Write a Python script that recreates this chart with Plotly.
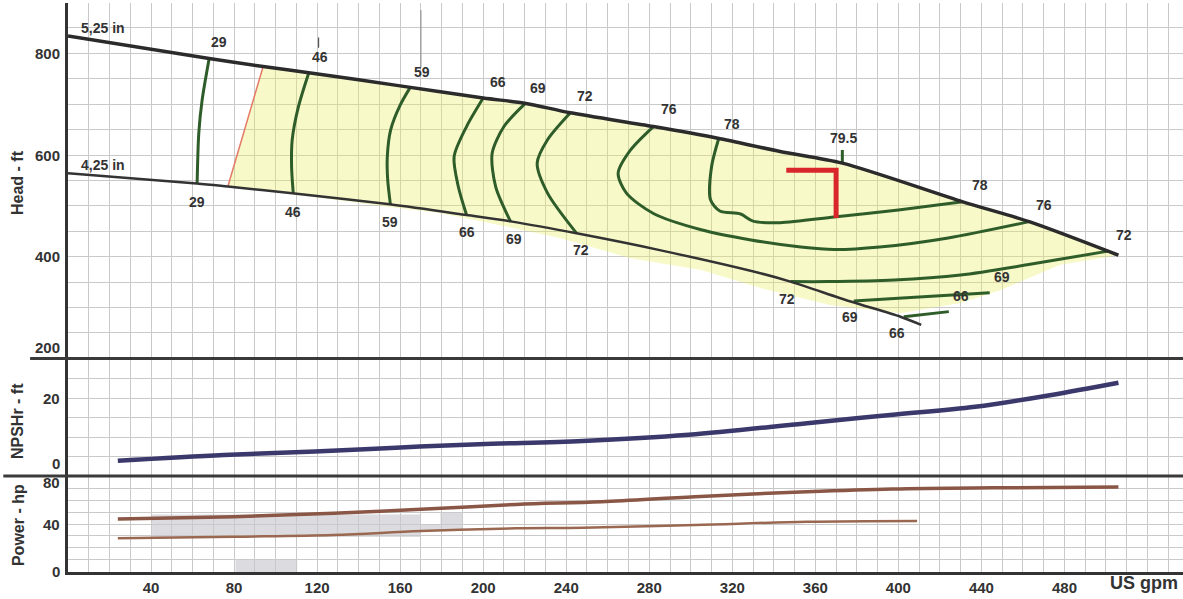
import plotly.graph_objects as go

# ---------------- head / flow curves (US gpm, ft) ----------------
q_525 = [0, 68, 94, 116, 160, 200, 220, 242, 282, 313, 343, 373, 431, 463, 506]
h_525 = [834, 790, 774, 762, 736, 712, 702, 683, 656, 633, 607, 584, 508, 469, 403]
q_425 = [0, 62, 77, 108, 155, 192, 214, 245, 285, 334, 348, 377, 401, 411]
h_425 = [564, 544, 538, 525, 503, 482, 469, 446, 413, 367, 351, 312, 282, 266]

# allowable operating region edge (min. flow)
q_minflow = [77, 94]
h_minflow = [538, 774]

# lower edge of the shaded operating region
q_shade_lo = [478, 449, 430, 401, 367, 334, 305, 271, 237, 208, 179, 155, 112, 77]
h_shade_lo = [384, 334, 309, 289, 305, 338, 374, 397, 437, 462, 486, 498, 521, 538]

# iso-efficiency contours (%)
iso_29_q = [68, 64.6, 63, 62.2]
iso_29_h = [790, 708, 643, 544]
iso_46_q = [116, 111, 108, 107.7, 108.5]
iso_46_h = [762, 695, 630, 577, 525]
iso_59_q = [165, 160, 155.4, 153.8, 154, 155.3]
iso_59_h = [734, 698, 649, 596, 551, 503]
iso_66_q = [200, 192, 186, 188, 192]
iso_66_h = [712, 656, 597, 538, 482]
iso_69_q = [220.4, 210, 204.3, 206, 213.2]
iso_69_h = [702, 656, 603, 538, 469]
iso_72_q = [242, 231, 226, 231, 245]
iso_72_h = [683, 630, 584, 525, 446]
iso_76_q = [282, 271, 265, 269, 282, 305, 329, 353, 369, 391, 424, 463]
iso_76_h = [656, 610, 564, 525, 485, 453, 433, 419, 414, 419, 437, 469]
iso_78_q = [313.5, 310, 309.5, 314, 324, 330, 343, 369, 400, 431]
iso_78_h = [633, 577, 512, 490, 484, 470, 467, 478, 492, 508]
iso_795_q = [373, 373]
iso_795_h = [584, 610]
iso_72b_q = [348, 366, 398, 430, 462, 501]
iso_72b_h = [351, 351, 354, 364, 384, 411]
iso_69b_q = [378.5, 398, 444]
iso_69b_h = [313, 318, 329]
iso_66b_q = [402.6, 424.3]
iso_66b_h = [282, 292]

# duty point
duty_q = 370
duty_h = 570

# reference ticks above the max-diameter curve
tick59_q = [170, 170]
tick59_h = [885, 773]
tick46_q = [120.7, 120.7]
tick46_h = [831, 811]

# efficiency labels: (text, gpm, ft)
eff_labels = [
    ("29", 72.5, 823), ("46", 121.6, 793), ("59", 170.6, 764), ("66", 207, 744),
    ("69", 226.3, 731), ("72", 249, 716), ("76", 289.4, 690), ("78", 320, 662),
    ("79.5", 373.7, 633), ("78", 439.5, 541), ("76", 470, 502), ("72", 508.5, 443),
    ("69", 450, 361), ("66", 430, 323),
    ("29", 62.2, 508), ("46", 108.5, 488), ("59", 155.3, 469), ("66", 192.3, 449),
    ("69", 214.7, 434), ("72", 246.9, 413), ("72", 346.4, 316), ("69", 376.9, 281),
    ("66", 399.4, 249),
]
dia_labels = [("5,25 in", 17, 850), ("4,25 in", 17, 580)]

# ---------------- NPSHr (ft) ----------------
q_npsh = [24, 75, 119, 158, 198, 248, 299, 356, 396, 437, 473, 506]
npsh = [3.9, 5.4, 6.3, 7.3, 8.2, 9.0, 10.6, 13.6, 15.7, 17.8, 20.8, 24.0]

# ---------------- power (hp) ----------------
q_pow_525 = [24, 80, 128, 170, 216, 257, 302, 356, 397, 446, 506]
pow_525 = [44.2, 46.1, 48.9, 52.2, 56.3, 58.6, 62.8, 66.9, 69.2, 70.2, 70.8]
q_pow_425 = [24, 80, 128, 170, 216, 248, 302, 356, 409]
pow_425 = [28.1, 29.4, 30.8, 34.2, 36.4, 36.9, 39.2, 41.9, 42.6]

# x tick labels
x_ticks = list(range(0, 540, 10))
x_labels = [str(v) if (v % 40 == 0 and 40 <= v <= 480) else "" for v in x_ticks]

GRID = "#c9c9c9"
AXIS = "#333333"
GREEN = "#2f5d2a"
FONT = "Liberation Sans, Arial, sans-serif"

fig = go.Figure()

# shaded operating region
fig.add_trace(go.Scatter(
    x=q_minflow[:1] + q_525[2:] + q_shade_lo,
    y=h_minflow[:1] + h_525[2:] + h_shade_lo,
    fill="toself", fillcolor="rgba(232,238,105,0.36)",
    line=dict(width=0), mode="lines", hoverinfo="skip", showlegend=False,
    xaxis="x", yaxis="y"))

def head_line(q, h, color, width, shape="spline"):
    fig.add_trace(go.Scatter(x=q, y=h, mode="lines",
                             line=dict(color=color, width=width, shape=shape, smoothing=0.8),
                             showlegend=False, hoverinfo="skip", xaxis="x", yaxis="y"))

for q, h in [(iso_29_q, iso_29_h), (iso_46_q, iso_46_h), (iso_59_q, iso_59_h),
             (iso_66_q, iso_66_h), (iso_69_q, iso_69_h), (iso_72_q, iso_72_h),
             (iso_76_q, iso_76_h), (iso_78_q, iso_78_h), (iso_795_q, iso_795_h),
             (iso_72b_q, iso_72b_h), (iso_69b_q, iso_69b_h), (iso_66b_q, iso_66b_h)]:
    head_line(q, h, GREEN, 3)

head_line(q_minflow, h_minflow, "#e47a66", 1.5, "linear")
head_line(q_525, h_525, "#2b2b2b", 3.5)
head_line(q_425, h_425, "#333333", 2.5)
head_line(tick59_q, tick59_h, "#888888", 1, "linear")
head_line(tick46_q, tick46_h, "#555555", 1.2, "linear")

# duty point bracket
head_line([duty_q - 24, duty_q, duty_q], [duty_h, duty_h, 476], "#d8262a", 5, "linear")

# NPSHr
fig.add_trace(go.Scatter(x=q_npsh, y=npsh, mode="lines",
                         line=dict(color="#3b396c", width=4.5, shape="spline"),
                         showlegend=False, hoverinfo="skip", xaxis="x2", yaxis="y2"))

# power
fig.add_trace(go.Scatter(x=q_pow_525, y=pow_525, mode="lines",
                         line=dict(color="#8a5645", width=3.5, shape="spline"),
                         showlegend=False, hoverinfo="skip", xaxis="x3", yaxis="y3"))
fig.add_trace(go.Scatter(x=q_pow_425, y=pow_425, mode="lines",
                         line=dict(color="#9a6850", width=2.5, shape="spline"),
                         showlegend=False, hoverinfo="skip", xaxis="x3", yaxis="y3"))

X_RANGE = [0, 537.1]
head_dom = [0.3754, 1.0]
npsh_dom = [0.1687, 0.3754]
pow_dom = [0.0, 0.1687]

xbase = dict(range=X_RANGE, tickmode="array", tickvals=x_ticks, showgrid=True,
             gridcolor=GRID, gridwidth=1, zeroline=False, ticks="")
ybase = dict(showgrid=True, gridcolor=GRID, gridwidth=1, zeroline=False,
             showticklabels=False, showline=True, linecolor=AXIS, linewidth=2.5, ticks="")

fig.update_layout(
    width=1183, height=599,
    margin=dict(l=68, r=0, t=3, b=27),
    paper_bgcolor="white", plot_bgcolor="white",
    showlegend=False,
    font=dict(family=FONT, color=AXIS),
    xaxis=dict(**xbase, anchor="y", domain=[0, 1], showticklabels=False),
    xaxis2=dict(**xbase, anchor="y2", domain=[0, 1], matches="x", showticklabels=False),
    xaxis3=dict(**xbase, anchor="y3", domain=[0, 1], matches="x",
                ticktext=x_labels, showticklabels=True,
                tickfont=dict(family=FONT, size=15, color="#333333", weight="bold"),
                showline=True, linecolor=AXIS, linewidth=2.5),
    yaxis=dict(**ybase, domain=head_dom, range=[200, 899], tick0=200, dtick=50),
    yaxis2=dict(**ybase, domain=npsh_dom, range=[0, 30.27], tick0=0, dtick=5),
    yaxis3=dict(**ybase, domain=pow_dom, range=[0, 80], tick0=0, dtick=10),
)

# panel dividers
for yv, x0 in [(npsh_dom[1], -0.034), (pow_dom[1], -0.058)]:
    fig.add_shape(type="line", xref="paper", yref="paper", x0=x0, x1=1, y0=yv, y1=yv,
                  line=dict(color="#3a3a3a", width=3))

# grey patches in the power panel
for x0, x1, y0, y1 in [(40.5, 169.6, 29.2, 48.0), (179.4, 190, 39.2, 49.2),
                       (169.6, 190, 34.2, 39.2), (80.7, 110.4, 0, 10)]:
    fig.add_shape(type="rect", xref="x3", yref="y3", x0=x0, x1=x1, y0=y0, y1=y1,
                  line=dict(width=0), fillcolor="#dcdce0", layer="below")

lab_font = dict(family=FONT, size=14, color="#333333", weight="bold")
tick_font = dict(family=FONT, size=15, color="#333333", weight="bold")

for txt, q, h in eff_labels + dia_labels:
    fig.add_annotation(x=q, y=h, xref="x", yref="y", text=txt, showarrow=False,
                       font=lab_font, xanchor="center", yanchor="middle")

# y tick labels
ytick_x = -0.0054
for txt, yv, ref in [("800", 800, "y"), ("600", 600, "y"), ("400", 400, "y"), ("200", 220.5, "y"),
                     ("20", 20, "y2"), ("0", 3.1, "y2"),
                     ("80", 74.2, "y3"), ("40", 40, "y3"), ("0", 0, "y3")]:
    fig.add_annotation(x=ytick_x, y=yv, xref="paper", yref=ref, text=txt, showarrow=False,
                       font=tick_font, xanchor="right", yanchor="middle")

# axis titles
for txt, yp in [("Head - ft", 0.6837), ("NPSHr - ft", 0.2654), ("Power - hp", 0.0826)]:
    fig.add_annotation(x=-0.0448, y=yp, xref="paper", yref="paper", text=txt, textangle=-90,
                       showarrow=False, font=dict(family=FONT, size=16, color="#333333", weight="bold"),
                       xanchor="center", yanchor="middle")

fig.add_annotation(x=518.5, y=-0.019, xref="x3", yref="paper", text="US gpm", showarrow=False,
                   font=dict(family=FONT, size=18, color="#333333", weight="bold"),
                   xanchor="center", yanchor="middle")

fig.write_html("out.html")
